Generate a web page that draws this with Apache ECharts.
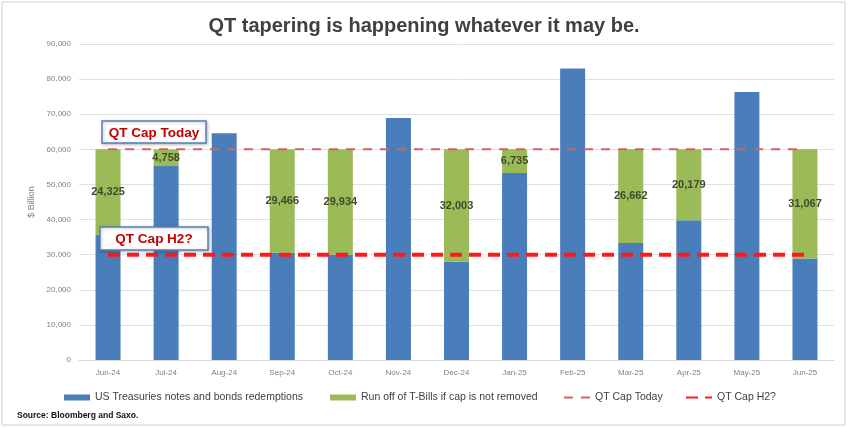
<!DOCTYPE html>
<html><head><meta charset="utf-8">
<script src="https://cdn.jsdelivr.net/npm/echarts@6/dist/echarts.min.js"></script>
<style>html,body{margin:0;padding:0;background:#fff}#c{width:848px;height:428px}</style>
</head><body><div id="c"></div>
<script>
const categories = ['Jun-24','Jul-24','Aug-24','Sep-24','Oct-24','Nov-24','Dec-24','Jan-25','Feb-25','Mar-25','Apr-25','May-25','Jun-25'];
const redemptions = [35675, 55242, 64600, 30534, 30066, 68900, 27997, 53265, 83000, 33338, 39821, 76300, 28933];
const tbillRunoff = [24325, 4758, null, 29466, 29934, null, 32003, 6735, null, 26662, 20179, null, 31067];
const capToday = [60000,60000,60000,60000,60000,60000,60000,60000,60000,60000,60000,60000,60000];
const capH2 = [30000,30000,30000,30000,30000,30000,30000,30000,30000,30000,30000,30000,30000];
const yTicks = {min: 0, max: 90000, interval: 10000};

const FONT = "'Liberation Sans', sans-serif";
const chart = echarts.init(document.getElementById('c'), null, {renderer: 'canvas'});
const legendText = {color: '#404040', fontSize: 10.5, fontFamily: FONT};
const hideSym = {opacity: 0};
chart.setOption({
  animation: false,
  title: {text: 'QT tapering is happening whatever it may be.', left: 'center', top: 11,
    textStyle: {fontFamily: FONT, fontWeight: 'bold', fontSize: 20, color: '#404040'}},
  grid: {left: 79, right: 14, top: 44, bottom: 68},
  xAxis: {type: 'category', data: categories,
    axisLine: {lineStyle: {color: '#d9d9d9'}}, axisTick: {show: false},
    axisLabel: {color: '#7f7f7f', fontSize: 8, fontFamily: FONT, margin: 9}},
  yAxis: {type: 'value', min: yTicks.min, max: yTicks.max, interval: yTicks.interval,
    name: '$ Billion', nameLocation: 'middle', nameGap: 40, nameRotate: 90,
    nameTextStyle: {color: '#7f7f7f', fontSize: 9, fontFamily: FONT},
    axisLabel: {color: '#7f7f7f', fontSize: 8, fontFamily: FONT, margin: 8,
      formatter: v => v.toLocaleString('en-US')},
    splitLine: {lineStyle: {color: '#e0e0e0'}}},
  legend: [
    {data: [{name: 'US Treasuries notes and bonds redemptions', icon: 'rect'}], left: 59, top: 387, itemWidth: 26, itemHeight: 6, itemGap: 4, textStyle: legendText},
    {data: [{name: 'Run off of T-Bills if cap is not removed', icon: 'rect'}], left: 325, top: 387, itemWidth: 26, itemHeight: 6, textStyle: legendText},
    {data: [{name: 'QT Cap Today', itemStyle: hideSym}], left: 558, top: 387, itemWidth: 26, itemHeight: 6, textStyle: legendText},
    {data: [{name: 'QT Cap H2?', itemStyle: hideSym}], left: 680, top: 387, itemWidth: 26, itemHeight: 6, textStyle: legendText}
  ],
  series: [
    {name: 'US Treasuries notes and bonds redemptions', type: 'bar', stack: 'a', data: redemptions,
      barWidth: 25, itemStyle: {color: '#4a7ebb'}},
    {name: 'Run off of T-Bills if cap is not removed', type: 'bar', stack: 'a', data: tbillRunoff,
      barWidth: 25, itemStyle: {color: '#9bbb59'},
      label: {show: true, position: 'inside', color: '#3f4a2a', fontWeight: 'bold', fontSize: 11, fontFamily: FONT,
        formatter: p => p.value == null ? '' : p.value.toLocaleString('en-US')}},
    {name: 'QT Cap Today', type: 'line', data: capToday, symbol: 'none', z: 5,
      lineStyle: {color: '#cc6666', width: 2, type: [9, 8]}, itemStyle: {color: '#cc6666'}},
    {name: 'QT Cap H2?', type: 'line', data: capH2, symbol: 'none', z: 5,
      lineStyle: {color: '#ff1a1a', width: 4, type: [12, 7]}, itemStyle: {color: '#ff1a1a'}}
  ],
  graphic: [
    {type: 'rect', shape: {x: 2, y: 2, width: 843, height: 423}, style: {fill: null, stroke: '#d0d0d0', lineWidth: 1}, silent: true},
    {type: 'rect', shape: {x: 102, y: 121, width: 104, height: 22}, style: {fill: '#fff', stroke: '#5b7fb3', lineWidth: 1.5, shadowBlur: 3, shadowColor: 'rgba(0,0,0,0.25)', shadowOffsetX: 1, shadowOffsetY: 1}, z: 10},
    {type: 'text', x: 154, y: 133, style: {text: 'QT Cap Today', fill: '#c00000', font: "bold 13.5px " + FONT, align: 'center', verticalAlign: 'middle'}, z: 11},
    {type: 'rect', shape: {x: 100, y: 227, width: 108, height: 23}, style: {fill: '#fff', stroke: '#5b7fb3', lineWidth: 1.5, shadowBlur: 3, shadowColor: 'rgba(0,0,0,0.25)', shadowOffsetX: 1, shadowOffsetY: 1}, z: 10},
    {type: 'text', x: 154, y: 239, style: {text: 'QT Cap H2?', fill: '#c00000', font: "bold 13.5px " + FONT, align: 'center', verticalAlign: 'middle'}, z: 11},
    {type: 'text', x: 17, y: 411, style: {text: 'Source: Bloomberg and Saxo.', fill: '#111', font: "bold 8.5px " + FONT}}
  ]
});
</script></body></html>
